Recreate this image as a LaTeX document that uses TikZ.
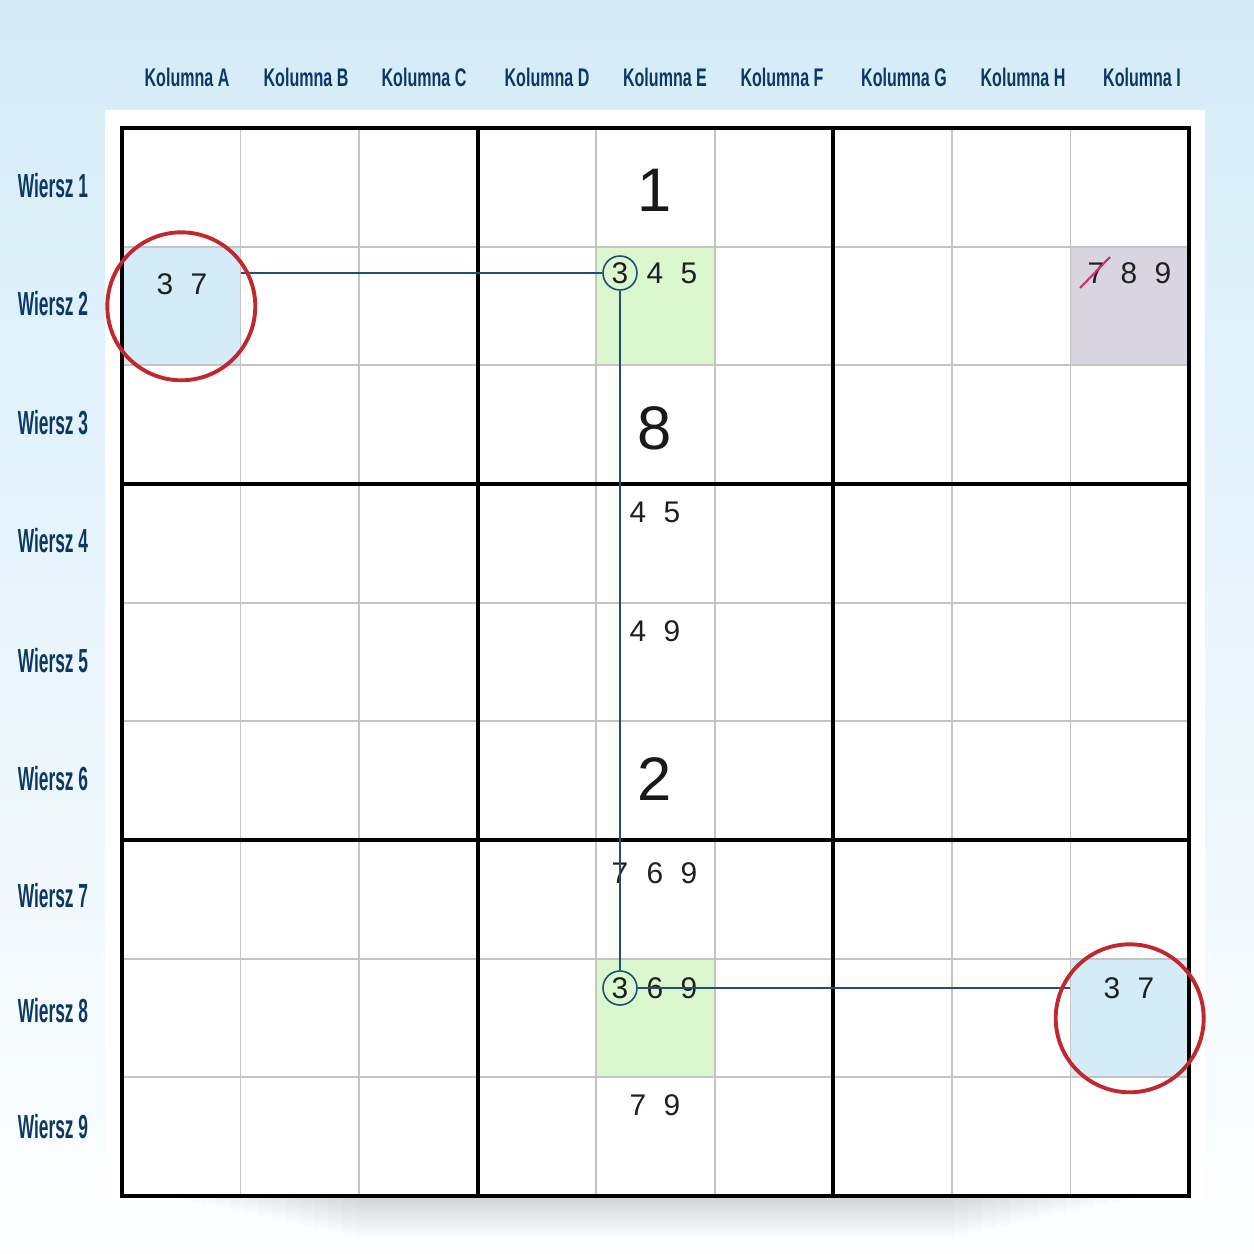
\documentclass[tikz,border=0pt]{standalone}
\usepackage{fontspec}
\setmainfont{Liberation Sans}
\usetikzlibrary{positioning}

\definecolor{labelblue}{HTML}{0C3864}
\definecolor{linkblue}{HTML}{1F4E79}
\definecolor{ringred}{HTML}{C0282D}
\definecolor{skyfill}{HTML}{D4ECF8}
\definecolor{pickgreen}{HTML}{DAF7CD}
\definecolor{greylilac}{HTML}{D9D5E0}
\definecolor{gridgrey}{HTML}{C4C4C4}
\definecolor{strikepink}{HTML}{D0306A}

\begin{document}
\begin{tikzpicture}[x=0.02cm, y=-0.02cm,
    cell/.style={minimum size=2.371cm, inner sep=0pt, draw=none},
    cand/.style={font=\fontsize{17}{17}\selectfont, text=black!88, inner sep=0pt},
    given/.style={font=\fontsize{35}{35}\selectfont, text=black!90, inner sep=0pt},
    collab/.style={font=\bfseries\fontsize{14.5}{14.5}\selectfont, text=labelblue, xscale=0.63},
    rowlab/.style={font=\bfseries\fontsize{19}{19}\selectfont, text=labelblue, xscale=0.52},
    pick/.style={circle, draw=linkblue, line width=0.9pt, minimum size=0.68cm, inner sep=0pt},
    ring/.style={circle, draw=ringred, line width=2.2pt, minimum size=2.96cm},
    link/.style={draw=linkblue, line width=1pt},
    thingrid/.style={draw=gridgrey, line width=1pt},
    boxline/.style={draw=black, line width=2.3pt}]

  % background and panel
  \shade[top color=skyfill, bottom color=white!97!skyfill] (0,0) rectangle (1254,1254);
  \useasboundingbox (0,0) rectangle (1254,1254);
  \fill[white] (105,110) rectangle (1205,1200);
  \foreach \k in {1,...,14}
    \fill[black, opacity=0.012] ({160+14*\k},1196) rectangle ({1150-14*\k},{1196+3*\k});

  % coloured cells
  \node[cell, fill=skyfill] (A2) at (181.3,306.3) {};
  \node[cell, fill=pickgreen] (E2) at (655.5,306.3) {};
  \node[cell, fill=greylilac] (I2) at (1129.7,306.3) {};
  \node[cell, fill=pickgreen] (E8) at (655.5,1018.3) {};
  \node[cell, fill=skyfill] (I8) at (1129.7,1018.3) {};

  % grid
  \foreach \i in {1,...,8} {
    \draw[thingrid] ({122+118.56*\i},128) -- ({122+118.56*\i},1196);
    \draw[thingrid] (122,{128+118.67*\i}) -- (1189,{128+118.67*\i});
  }
  \foreach \i in {3,6} {
    \draw[boxline] ({122+118.56*\i},128) -- ({122+118.56*\i},1196);
    \draw[boxline] (122,{128+118.67*\i}) -- (1189,{128+118.67*\i});
  }
  \draw[boxline] (122,128) rectangle (1189,1196);

  % labels
  \foreach \c/\x in {A/187,B/306,C/424,D/547,E/665,F/782,G/904,H/1023,I/1142}
    \node[collab] (col\c) at (\x,77) {Kolumna \c};
  \foreach \r/\y in {1/186,2/304,3/423,4/541,5/661,6/779,7/896,8/1011,9/1127}
    \node[rowlab] (row\r) at (53,\y) {Wiersz \r};

  % given digits
  \node[given] (e1) at (655,190) {1};
  \node[given] (e3) at (655,428) {8};
  \node[given] (e6) at (655,779) {2};

  % candidates
  \foreach \d/\x in {3/165,7/199} \node[cand] (a2-\d) at (\x,284) {\d};
  \foreach \d/\x in {3/620,4/655,5/689} \node[cand] (e2-\d) at (\x,273) {\d};
  \foreach \d/\x in {7/1096,8/1129,9/1163} \node[cand] (i2-\d) at (\x,273) {\d};
  \foreach \d/\x in {4/638,5/672} \node[cand] (e4-\d) at (\x,512) {\d};
  \foreach \d/\x in {4/638,9/672} \node[cand] (e5-\d) at (\x,631) {\d};
  \foreach \d/\x in {7/620,6/655,9/689} \node[cand] (e7-\d) at (\x,873) {\d};
  \foreach \d/\x in {3/620,6/655,9/689} \node[cand] (e8-\d) at (\x,988) {\d};
  \foreach \d/\x in {7/638,9/672} \node[cand] (e9-\d) at (\x,1105) {\d};
  \foreach \d/\x in {3/1112,7/1146} \node[cand] (i8-\d) at (\x,988) {\d};

  % crossed-out 7
  \draw[strikepink, line width=1.2pt] (1080,288) -- (1110,257);

  % chain
  \node[pick] (e2c) at (e2-3) {};
  \node[pick] (e8c) at (e8-3) {};
  \draw[link] (e2c) -- (e2c -| A2.east);
  \draw[link] (e2c) -- (e8c);
  \draw[link] (e8c) -- (e8c -| I8.west);

  % rings
  \node[ring] (ringA2) at (A2) {};
  \node[ring] (ringI8) at (I8) {};
\end{tikzpicture}
\end{document}
